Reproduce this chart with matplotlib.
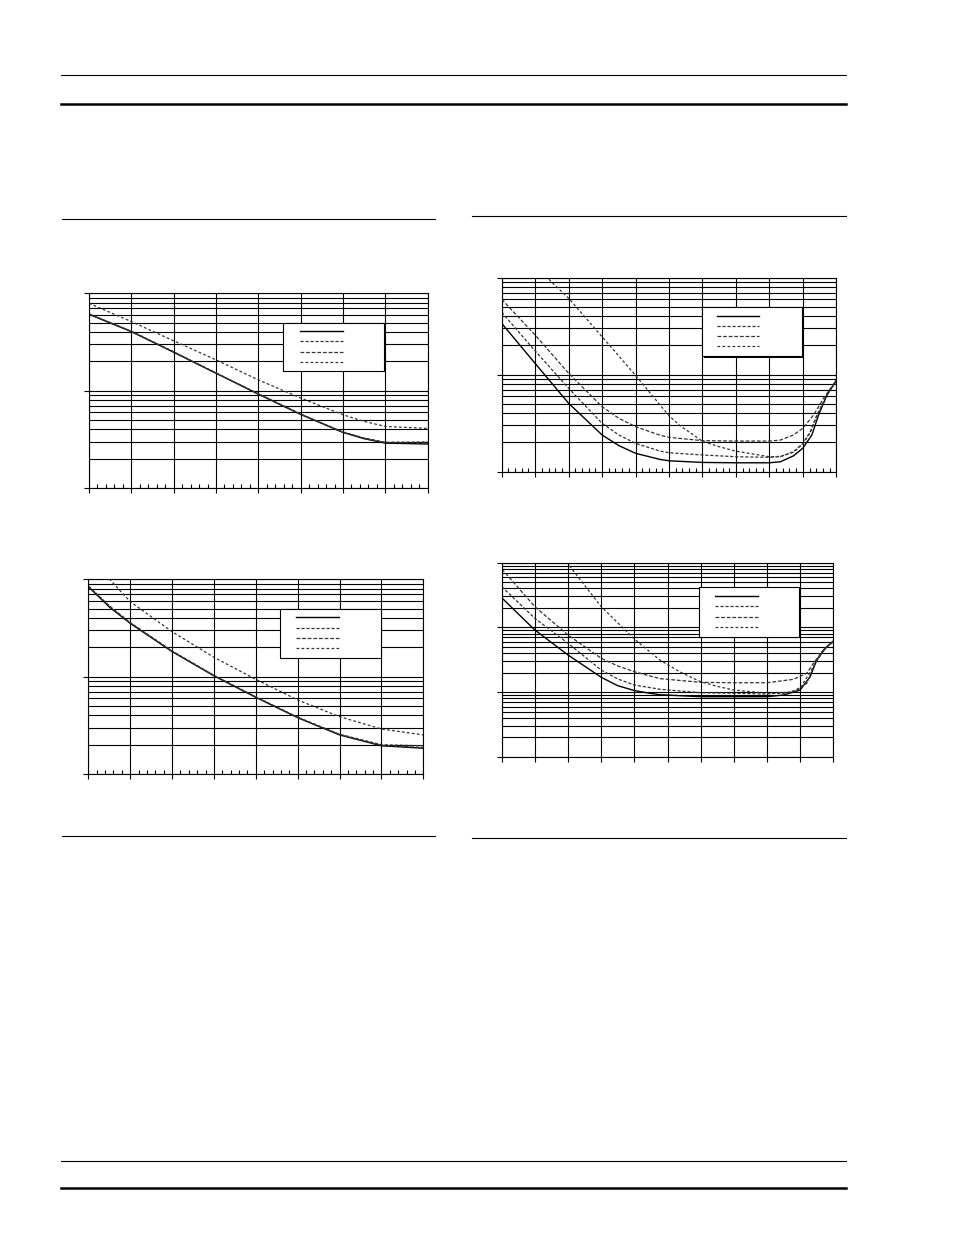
import matplotlib
matplotlib.use("Agg")
import matplotlib.pyplot as plt
from matplotlib.lines import Line2D
from matplotlib.patches import Rectangle
from matplotlib.ticker import LogLocator, MultipleLocator, NullFormatter, NullLocator

W, H = 954, 1235

# --- chart 1 (top left), x in grid divisions ---
c1_x = [0, 1, 2, 3, 4, 5, 6, 6.5, 7, 8]
c1_solid = [60.9, 40.4, 24.8, 15.1, 9.2, 5.7, 3.72, 3.21, 2.89, 2.83]
c1_dash_a = [61.5, 40.8, 25.1, 15.2, 9.3, 5.75, 3.76, 3.26, 2.95, 2.97]
c1_dash_b = [61.2, 40.6, 24.9, 15.15, 9.25, 5.72, 3.74, 3.24, 2.92, 2.90]
c1_dash_up = [78.9, 51.2, 32.5, 20.7, 12.9, 8.4, 5.65, 4.83, 4.29, 4.09]

# --- chart 2 (bottom left) ---
c2_x = [0, 0.5, 1, 2, 3, 4, 5, 6, 7, 8]
c2_solid = [84.1, 52.0, 35.3, 18.1, 10.2, 6.13, 3.79, 2.52, 1.95, 1.84]
c2_dash_a = [85.5, 53.5, 36.0, 18.4, 10.3, 6.2, 3.83, 2.56, 2.0, 1.95]
c2_dash_b = [84.8, 52.8, 35.6, 18.2, 10.25, 6.16, 3.81, 2.54, 1.97, 1.87]
c2_dash_up = [float("nan"), 101, 59.0, 29.0, 15.8, 9.39, 5.76, 3.88, 2.90, 2.52]

# --- chart 3 (top right) ---
c3_solid_x = [0, 1, 2, 3, 3.5, 4, 4.74, 5, 6, 7, 8, 8.33, 8.72, 9, 9.27, 9.47, 9.72, 10]
c3_solid_y = [33.7, 13.0, 5.05, 2.38, 1.85, 1.54, 1.33, 1.29, 1.24, 1.23, 1.23, 1.26, 1.45,
              1.74, 2.38, 3.82, 6.15, 8.57]
c3_dash1_x = [0, 1, 2, 3, 3.5, 4, 4.74, 5, 6, 7, 8, 8.33, 8.72, 9, 9.22, 9.42, 9.72, 10]
c3_dash1_y = [43.8, 17.5, 7.21, 3.14, 2.38, 1.95, 1.62, 1.56, 1.48, 1.42, 1.40, 1.42, 1.60,
              1.95, 2.57, 3.82, 6.15, 8.78]
c3_dash2_x = [0, 1, 2, 3, 3.5, 4, 4.74, 5, 6, 7, 8, 8.33, 8.72, 9, 9.32, 9.62, 10]
c3_dash2_y = [59.6, 25.5, 10.3, 4.66, 3.54, 2.90, 2.36, 2.25, 2.08, 2.06, 2.06, 2.11, 2.38,
              2.79, 3.82, 5.69, 8.78]
c3_steep_x = [1.3, 2, 3, 4, 5, 5.33, 6, 6.5, 7, 8, 8.33, 8.72, 9, 9.22, 9.42, 9.72, 10]
c3_steep_y = [104, 61.1, 24.5, 9.8, 3.76, 2.97, 2.05, 1.80, 1.62, 1.42, 1.43, 1.58, 1.92,
              2.5, 3.75, 6.1, 8.7]

# --- chart 4 (bottom right) ---
c4_solid_x = [0, 1, 2, 3, 3.5, 4, 4.47, 4.77, 6, 7, 8, 8.5, 9, 9.3, 9.5, 9.8, 10]
c4_solid_y = [287, 91.2, 37.5, 17.0, 12.6, 10.6, 9.62, 9.15, 8.52, 8.52, 8.52, 9.05, 10.8,
              17.3, 31.4, 50.4, 60.2]
c4_dash1_x = [0, 1, 2, 3, 3.5, 4, 4.77, 6, 7, 8, 8.8, 9.2, 9.4, 9.7, 10]
c4_dash1_y = [425, 138, 56.8, 22.0, 16.0, 12.9, 11.1, 9.83, 9.62, 9.38, 10.2, 13.7, 24.7,
              44.8, 61.7]
c4_dash2_x = [0, 1, 2, 3, 3.5, 4, 4.77, 6, 7, 8, 8.8, 9.2, 9.4, 9.7, 10]
c4_dash2_y = [800, 209, 76.3, 33.4, 25.4, 20.7, 16.2, 14.2, 14.0, 14.0, 15.8, 19.6, 27.9,
              44.8, 61.7]
c4_steep_x = [1.95, 3, 4, 4.77, 5.38, 6, 6.5, 7, 8, 8.6, 9, 9.4, 9.7, 10]
c4_steep_y = [1030, 209, 66.2, 31.4, 20.5, 14.5, 12.3, 10.8, 9.62, 9.62, 11.5, 24.7, 44.8,
              61.7]

STYLES = [
    dict(color="black", lw=1.0, ls="-"),
    dict(color="#333333", lw=0.9, ls=(0, (2.5, 1.5))),
    dict(color="#333333", lw=0.9, ls=(0, (3, 1.5))),
    dict(color="#333333", lw=0.9, ls=(0, (2.2, 1.8))),
]


def make_axes(fig, left, top, right, bottom):
    return fig.add_axes([left / W, 1 - bottom / H, (right - left) / W, (bottom - top) / H])


def style_axes(ax, xmax, ymax, minor_x=True):
    ax.set_xlim(0, xmax)
    ax.set_yscale("log")
    ax.set_ylim(1, ymax)
    ax.xaxis.set_major_locator(MultipleLocator(1))
    ax.xaxis.set_minor_locator(MultipleLocator(0.2) if minor_x else NullLocator())
    ax.yaxis.set_major_locator(LogLocator(10))
    ax.yaxis.set_minor_locator(LogLocator(10, subs=range(2, 10)))
    ax.yaxis.set_minor_formatter(NullFormatter())
    ax.set_axisbelow(True)
    ax.grid(which="major", axis="x", color="black", lw=0.8)
    ax.grid(which="both", axis="y", color="black", lw=0.8)
    ax.tick_params(which="major", direction="out", length=3.6, width=0.8,
                   labelbottom=False, labelleft=False)
    ax.tick_params(axis="x", which="minor", direction="in", length=2.9, width=0.8)
    ax.tick_params(axis="y", which="minor", length=0)
    for s in ax.spines.values():
        s.set_linewidth(0.8)


def draw_legend(ax, box, line_x, line_ys, shadow=False):
    x0, y0, x1, y1 = box
    if shadow:
        ax.add_patch(Rectangle((x0 + 0.006, y0 - 0.008), x1 - x0, y1 - y0, transform=ax.transAxes,
                               facecolor="black", edgecolor="none", zorder=5))
    ax.add_patch(Rectangle((x0, y0), x1 - x0, y1 - y0, transform=ax.transAxes,
                           facecolor="white", edgecolor="black", lw=0.8, zorder=6))
    for y, st in zip(line_ys, STYLES):
        ax.add_line(Line2D(line_x, [y, y], transform=ax.transAxes, zorder=7, **st))


fig = plt.figure(figsize=(W / 100, H / 100), dpi=100)


# page rules
def rule(x0, x1, y, lw):
    fig.add_artist(Line2D([x0 / W, x1 / W], [1 - y / H, 1 - y / H], transform=fig.transFigure,
                          color="black", lw=lw))


rule(61, 846, 75.3, 0.8)
rule(61, 846, 103.7, 1.8)
rule(61, 846, 1160.7, 0.8)
rule(61, 846, 1188.3, 1.8)
rule(62, 435, 219.3, 0.8)
rule(472, 846, 216, 0.8)
rule(62, 435, 836.3, 0.8)
rule(472, 846, 838.3, 0.8)

# chart 1
ax1 = make_axes(fig, 89, 293.3, 427.7, 488)
style_axes(ax1, 8, 100)
for ys, st in zip([c1_solid, c1_dash_a, c1_dash_b, c1_dash_up], STYLES):
    ax1.plot(c1_x, ys, **st)
draw_legend(ax1, (0.5737, 0.601, 0.871, 0.849), [0.623, 0.749],
            [0.8048, 0.7535, 0.697, 0.6472])

# chart 2
ax2 = make_axes(fig, 88.3, 579.3, 423.3, 774)
style_axes(ax2, 8, 100)
for ys, st in zip([c2_solid, c2_dash_a, c2_dash_b, c2_dash_up], STYLES):
    ax2.plot(c2_x, ys, **st)
draw_legend(ax2, (0.5722, 0.5942, 0.8737, 0.849), [0.620, 0.7475],
            [0.8048, 0.7514, 0.6985, 0.6456])

# chart 3
ax3 = make_axes(fig, 501.7, 277.5, 836.3, 471.5)
style_axes(ax3, 10, 100)
for xs, ys, st in zip([c3_solid_x, c3_dash1_x, c3_dash2_x, c3_steep_x],
                      [c3_solid_y, c3_dash1_y, c3_dash2_y, c3_steep_y], STYLES):
    ax3.plot(xs, ys, **st)
draw_legend(ax3, (0.5977, 0.5954, 0.8966, 0.8464), [0.6444, 0.7699],
            [0.8015, 0.750, 0.6985, 0.647], shadow=True)

# chart 4
ax4 = make_axes(fig, 501.7, 562.6, 833.3, 757)
style_axes(ax4, 10, 1000, minor_x=False)
for xs, ys, st in zip([c4_solid_x, c4_dash1_x, c4_dash2_x, c4_steep_x],
                      [c4_solid_y, c4_dash1_y, c4_dash2_y, c4_steep_y], STYLES):
    ax4.plot(xs, ys, **st)
draw_legend(ax4, (0.5959, 0.6188, 0.8975, 0.873), [0.6432, 0.7738],
            [0.828, 0.7767, 0.7217, 0.6703], shadow=True)

fig.savefig("out.png", dpi=100)
